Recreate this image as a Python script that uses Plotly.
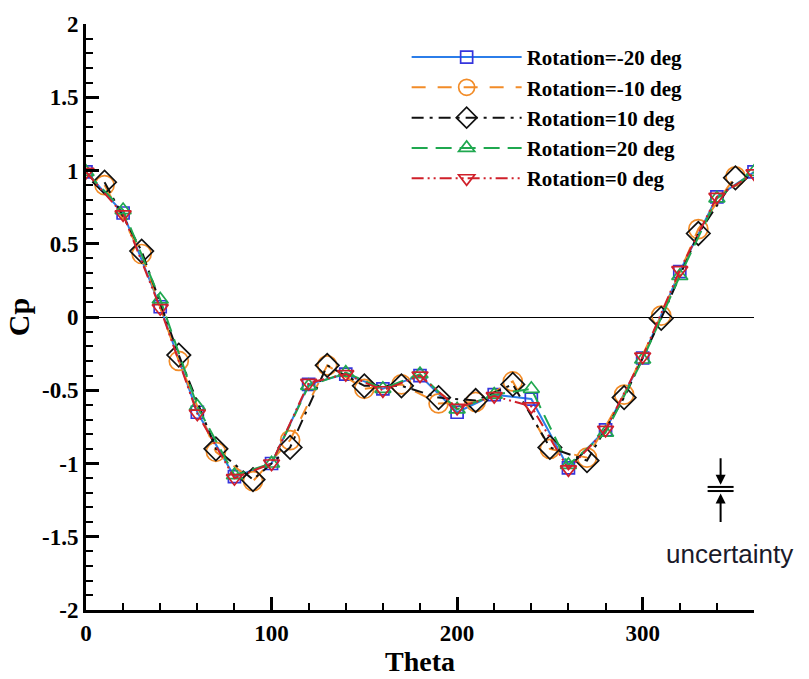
import plotly.graph_objects as go

# ---- data ----
theta_even = [0, 20, 40, 60, 80, 100, 120, 140, 160, 180, 200, 220, 240, 260, 280, 300, 320, 340, 360]
theta_odd = [10, 30, 50, 70, 90, 110, 130, 150, 170, 190, 210, 230, 250, 270, 290, 310, 330, 350]

cp_m20 = [0.99, 0.71, 0.07, -0.65, -1.09, -1.00, -0.46, -0.39, -0.49, -0.40, -0.65, -0.53, -0.56, -1.03, -0.77, -0.28, 0.31, 0.82, 0.99]
cp_p20 = [0.99, 0.73, 0.12, -0.61, -1.08, -1.00, -0.47, -0.38, -0.49, -0.39, -0.63, -0.53, -0.49, -1.01, -0.79, -0.29, 0.28, 0.81, 0.99]
cp_0 = [0.99, 0.70, 0.06, -0.66, -1.10, -1.00, -0.45, -0.39, -0.50, -0.40, -0.62, -0.54, -0.61, -1.04, -0.77, -0.27, 0.32, 0.82, 0.98]
cp_m10 = [0.90, 0.43, -0.30, -0.92, -1.12, -0.84, -0.33, -0.49, -0.46, -0.59, -0.58, -0.44, -0.90, -0.96, -0.53, 0.01, 0.60, 0.96]
cp_p10 = [0.92, 0.45, -0.26, -0.90, -1.11, -0.89, -0.33, -0.47, -0.47, -0.55, -0.57, -0.46, -0.89, -0.98, -0.55, -0.01, 0.57, 0.95]

series = [
    dict(name="Rotation=-20 deg", x=theta_even, y=cp_m20, line="#2b7de9", mk="#3535dd",
         dash="solid", symbol="square-open", size=12),
    dict(name="Rotation=-10 deg", x=theta_odd, y=cp_m10, line="#f28c28", mk="#f28c28",
         dash="14px,12px", symbol="circle-open", size=19),
    dict(name="Rotation=10 deg", x=theta_odd, y=cp_p10, line="#111111", mk="#111111",
         dash="12px,6px,3px,6px", symbol="diamond-open", size=18),
    dict(name="Rotation=20 deg", x=theta_even, y=cp_p20, line="#1fa84f", mk="#1fa84f",
         dash="16px,8px", symbol="triangle-up-open", size=14),
    dict(name="Rotation=0 deg", x=theta_even, y=cp_0, line="#d0202a", mk="#d0202a",
         dash="12px,4px,2px,4px,2px,4px", symbol="triangle-down-open", size=14),
]

serif = "Liberation Serif, Times New Roman, serif"

fig = go.Figure()
for s in series:
    fig.add_trace(go.Scatter(
        x=s["x"], y=s["y"], name=s["name"], mode="lines+markers",
        line=dict(color=s["line"], width=2, dash=s["dash"]),
        marker=dict(symbol=s["symbol"], size=s["size"], color=s["mk"],
                    line=dict(color=s["mk"], width=1.7)),
    ))

# uncertainty indicator (data coordinates)
ux = 342
fig.add_shape(type="line", x0=ux - 7, x1=ux + 7, y0=-1.160, y1=-1.160,
              line=dict(color="black", width=2))
fig.add_shape(type="line", x0=ux - 7, x1=ux + 7, y0=-1.188, y1=-1.188,
              line=dict(color="black", width=2))
fig.add_annotation(x=ux, y=-1.145, ax=0, ay=-28, text="", showarrow=True,
                   arrowhead=2, arrowsize=1, arrowwidth=2, arrowcolor="black")
fig.add_annotation(x=ux, y=-1.205, ax=0, ay=30, text="", showarrow=True,
                   arrowhead=2, arrowsize=1, arrowwidth=2, arrowcolor="black")
fig.add_annotation(x=ux + 5, y=-1.615, text="uncertainty", showarrow=False,
                   font=dict(family="Liberation Sans, Arial, sans-serif", size=26, color="#1a1a2a"))

axis_common = dict(
    showline=True, linecolor="black", linewidth=3, mirror=False,
    ticks="inside", ticklen=13, tickwidth=2.5, tickcolor="black",
    showgrid=False,
    tickfont=dict(family=serif, size=23, color="black", weight="bold"),
)

fig.update_xaxes(range=[0, 360], tickvals=[0, 100, 200, 300], ticktext=["0", "100", "200", "300"],
                 minor=dict(dtick=20, tick0=0, ticks="inside", ticklen=7, tickwidth=1.5, tickcolor="black"),
                 zeroline=False,
                 title=dict(text="Theta", font=dict(family=serif, size=28, color="black", weight="bold"),
                            standoff=2),
                 **axis_common)
fig.update_yaxes(range=[-2, 2], tickvals=[-2, -1.5, -1, -0.5, 0, 0.5, 1, 1.5, 2],
                 ticktext=["-2", "-1.5", "-1", "-0.5", "0", "0.5", "1", "1.5", "2"],
                 minor=dict(dtick=0.1, tick0=0, ticks="inside", ticklen=7, tickwidth=1.5, tickcolor="black"),
                 zeroline=True, zerolinecolor="black", zerolinewidth=1,
                 title=dict(text="Cp", font=dict(family=serif, size=30, color="black", weight="bold"),
                            standoff=4),
                 **axis_common)

fig.update_layout(
    width=809, height=679,
    margin=dict(l=86, r=55, t=20, b=53),
    paper_bgcolor="white", plot_bgcolor="white",
    showlegend=True,
    legend=dict(x=0.48, y=0.978, xanchor="left", yanchor="top",
                bgcolor="rgba(255,255,255,0)", itemwidth=110,
                font=dict(family=serif, size=21, color="black", weight="bold"),
                tracegroupgap=0, itemsizing="trace"),
)

fig.write_html("out.html")
